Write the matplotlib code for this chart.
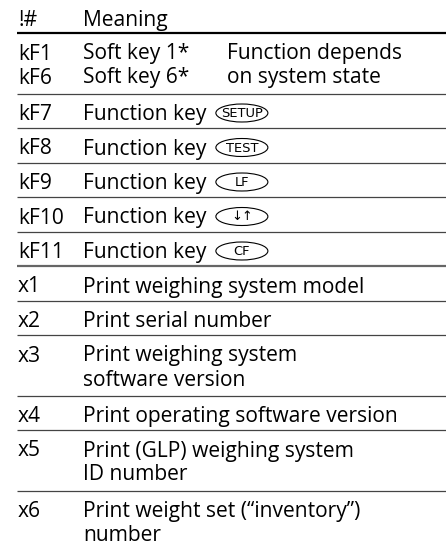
import matplotlib
matplotlib.use("Agg")
import matplotlib.pyplot as plt
from matplotlib.patches import Ellipse

# =========================
# DADOS DA TABELA
# =========================

header = ["!#", "Meaning"]

codes = ["kF1\nkF6", "kF7", "kF8", "kF9", "kF10", "kF11",
         "x1", "x2", "x3", "x4", "x5", "x6"]

meanings = ["Soft key 1*\nSoft key 6*",
            "Function key", "Function key", "Function key",
            "Function key", "Function key",
            "Print weighing system model",
            "Print serial number",
            "Print weighing system\nsoftware version",
            "Print operating software version",
            "Print (GLP) weighing system\nID number",
            "Print weight set (\u201cinventory\u201d)\nnumber"]

notes = ["Function depends\non system state", "", "", "", "", "",
         "", "", "", "", "", ""]

keys = ["", "SETUP", "TEST", "LF", "\u2193\u2191", "CF",
        "", "", "", "", "", ""]

# =========================
# LAYOUT
# =========================

W, H = 446, 546
fig = plt.figure(figsize=(W / 100, H / 100), dpi=100)
ax = fig.add_axes([0, 0, 1, 1])
ax.set_xlim(0, W)
ax.set_ylim(H, 0)
ax.axis("off")
renderer = fig.canvas.get_renderer()

font = "Open Sans"
key_font = ["Liberation Sans Narrow", "DejaVu Sans"]
col_x = [18, 83, 227]
left, right = 17, W
line_gap = 24


def width_px(txt, size, fam):
    t = ax.text(0, 0, txt, fontsize=size, family=fam)
    ww = t.get_window_extent(renderer).width
    t.remove()
    return ww


# ajusta o tamanho da fonte pela linha mais longa (~314 px no original)
fs = 12 * 314 / width_px("Print operating software version", 12, font)
# texto das teclas: "SETUP" ocupa quase toda a elipse
kfs = 8 * 42 / width_px("SETUP", 8, key_font)

ax.text(col_x[0], 26, header[0], fontsize=fs, family=font, va="baseline")
ax.text(col_x[1], 26, header[1], fontsize=fs, family=font, va="baseline")
ax.plot([left, right], [33, 33], color="black", lw=1.6, solid_capstyle="butt")

y = 33
for i, (code, meaning, note, key) in enumerate(zip(codes, meanings, notes, keys)):
    n = max(code.count("\n"), meaning.count("\n"), note.count("\n")) + 1
    h = 34.5 if n == 1 else 60.5
    base = y + 26.5
    for col, txt in zip(col_x, [code, meaning, note]):
        for j, part in enumerate(txt.split("\n")):
            ax.text(col, base + j * line_gap, part, fontsize=fs,
                    family=font, va="baseline")
    if key:
        kw = 52
        cx = col_x[1] + width_px(meaning + " ", fs, font) + 4 + kw / 2
        cy = base - 7
        ax.add_patch(Ellipse((cx, cy), kw, 18, fill=False, lw=0.8, ec="black"))
        ax.text(cx, cy + 0.5, key, fontsize=kfs, family=key_font,
                ha="center", va="center")
    y += h
    if i < len(codes) - 1:
        if code == "kF11":
            ax.plot([left, right], [y, y], color="#666666", lw=1.6, solid_capstyle="butt")
        else:
            ax.plot([left, right], [y, y], color="#444444", lw=0.9, solid_capstyle="butt")

fig.savefig("out.png", dpi=100)
